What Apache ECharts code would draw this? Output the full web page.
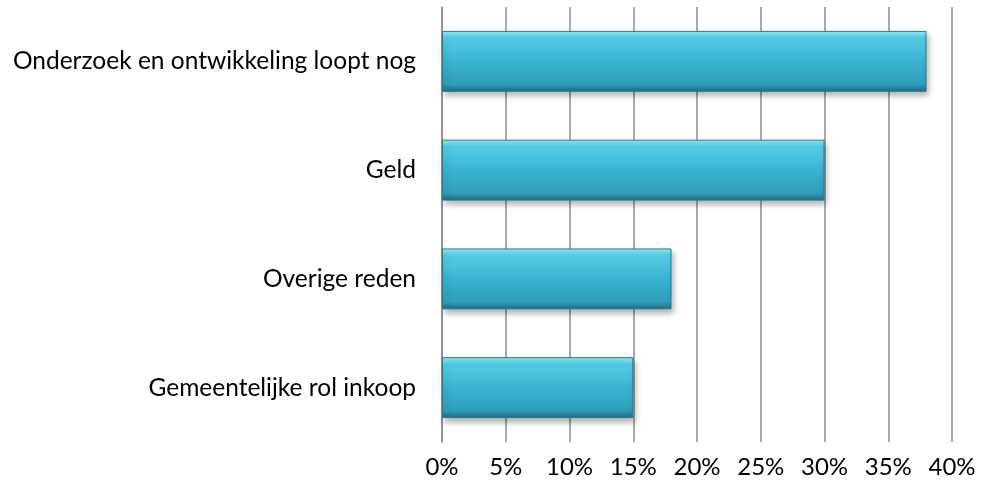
<!DOCTYPE html>
<html><head><meta charset="utf-8">
<script src="https://cdn.jsdelivr.net/npm/echarts@6/dist/echarts.min.js"></script>
<style>html,body{margin:0;padding:0;background:#fff}#c{width:983px;height:490px}</style>
</head><body><div id="c"></div>
<script>
const categories = ["Onderzoek en ontwikkeling loopt nog", "Geld", "Overige reden", "Gemeentelijke rol inkoop"];
const values = [38, 30, 18, 15];
const font = "Lato, 'Open Sans', sans-serif";
const chart = echarts.init(document.getElementById('c'));
chart.setOption({
  animation: false,
  grid: {left: 442, right: 31, top: 7, bottom: 48},
  xAxis: {
    type: 'value', min: 0, max: 40, interval: 5,
    axisLine: {show: false}, axisTick: {show: false},
    splitLine: {show: true, lineStyle: {color: '#8c8c8c', width: 1.5}},
    axisLabel: {formatter: '{value}%', color: '#000', fontFamily: font, fontSize: 24, margin: 13}
  },
  yAxis: {
    type: 'category', data: categories, inverse: true,
    axisLine: {show: true, lineStyle: {color: '#8c8c8c', width: 1.5}},
    axisTick: {show: false},
    axisLabel: {color: '#000', fontFamily: font, fontSize: 24.5, margin: 26}
  },
  series: [{
    type: 'bar', data: values, barCategoryGap: '44%',
    itemStyle: {
      color: new echarts.graphic.LinearGradient(0, 0, 0, 1, [
        {offset: 0, color: '#8cf0fd'},
        {offset: 0.12, color: '#55cce7'},
        {offset: 0.5, color: '#3ab3d3'},
        {offset: 0.88, color: '#2f9dba'},
        {offset: 1, color: '#216a7e'}
      ]),
      borderColor: '#2a7a8e', borderWidth: 1,
      shadowColor: 'rgba(0,0,0,0.3)', shadowBlur: 6, shadowOffsetX: 2, shadowOffsetY: 4
    }
  }]
});
</script></body></html>
